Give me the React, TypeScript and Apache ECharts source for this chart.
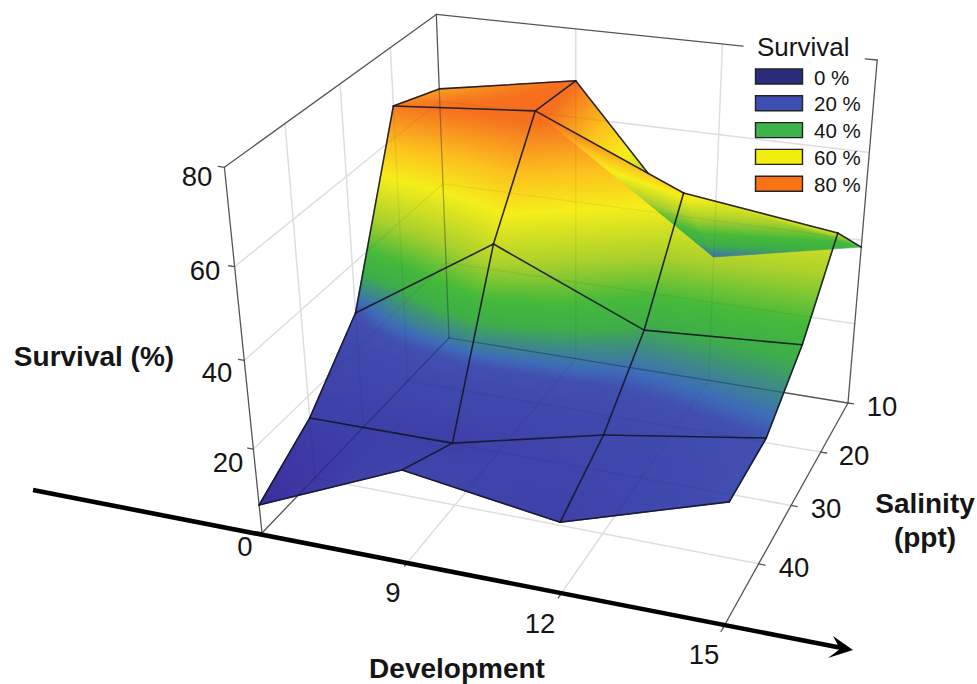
import React, { useEffect, useRef } from "react";
import * as echarts from "echarts";

// ---- data ----
const developmentTicks = [9, 12, 15];
const salinityTicks = [10, 20, 30, 40];
const survivalTicks = [0, 20, 40, 60, 80];
const developmentNodes = [6, 9, 12, 15];
const salinityNodes = [10, 20, 30, 40, 50];
const survivalAt10 = [62.9, 68.4, 31.2, 38.4];
const survivalAt20 = [67.1, 69.8, 55.8, 51.5];
const survivalAt30 = [28.5, 49.5, 35.2, 37.4];
const survivalAt40 = [14.8, 15.0, 23.2, 28.8];
const survivalAt50 = [6.8, 21.7, 16.7, 28.1];
const survivalRows = [survivalAt10, survivalAt20, survivalAt30, survivalAt40, survivalAt50];
const legendLabels = ["0 %", "20 %", "40 %", "60 %", "80 %"];
const legendColors = ["#2b2c7c", "#3d4db0", "#3cb44a", "#f2ee10", "#f97316"];
const rampValues = [0, 7, 15, 25, 28.5, 30.5, 33, 36, 40, 46, 54, 60, 68, 80];
const rampColors = ["#2c2480", "#3b2e9e", "#3e3fa8", "#4049ae", "#414fb0", "#3e6cb8", "#3d8a88", "#3eae48", "#45b93a", "#a8d02c", "#f5ee1a", "#fcc01e", "#f5701f", "#f96010"];

// ---- 3D projection of the box ----
const X_MIN = 6, X_MAX = 15, Y_MIN = 10, Y_MAX = 50, Z_MAX = 80;

function solve(A: number[][], b: number[]) {
  const n = b.length;
  const M = A.map((r, i) => [...r, b[i]]);
  for (let i = 0; i < n; i++) {
    let p = i;
    for (let k = i + 1; k < n; k++) if (Math.abs(M[k][i]) > Math.abs(M[p][i])) p = k;
    [M[i], M[p]] = [M[p], M[i]];
    for (let k = 0; k < n; k++) {
      if (k === i) continue;
      const f = M[k][i] / M[i][i];
      for (let j = i; j <= n; j++) M[k][j] -= f * M[i][j];
    }
  }
  return M.map((r, i) => r[n] / r[i]);
}
const floorCal = [[0, 0, 449, 338], [1, 0, 848, 403], [1, 1, 723, 628], [0, 1, 262, 533]];
const topCal = [[0, 1, 225, 168], [0, 0, 436, 12], [1, 0, 877, 62]];
const h = (() => {
  const A: number[][] = [], b: number[] = [];
  for (const [u, v, x, y] of floorCal) {
    A.push([u, v, 1, 0, 0, 0, -u * x, -v * x]); b.push(x);
    A.push([0, 0, 0, u, v, 1, -u * y, -v * y]); b.push(y);
  }
  return solve(A, b);
})();
const H = (u: number, v: number) => [h[0] * u + h[1] * v + h[2], h[3] * u + h[4] * v + h[5], h[6] * u + h[7] * v + 1];
const col = (() => {
  const A: number[][] = [], b: number[] = [];
  for (const [u, v, x, y] of topCal) {
    const [X, Y, W] = H(u, v);
    A.push([1, 0, -x]); b.push(x * W - X);
    A.push([0, 1, -y]); b.push(y * W - Y);
  }
  const N = [0, 1, 2].map((i) => [0, 1, 2].map((j) => A.reduce((s, r) => s + r[i] * r[j], 0)));
  const R = [0, 1, 2].map((i) => A.reduce((s, r, k) => s + r[i] * b[k], 0));
  return solve(N, R);
})();
type Pt = number[];
function projUV(u: number, v: number, z: number): Pt {
  const [X, Y, W] = H(u, v);
  const t = z / Z_MAX;
  const d = W + col[2] * t;
  return [(X + col[0] * t) / d, (Y + col[1] * t) / d];
}
const uOf = (x: number) => (x - X_MIN) / (X_MAX - X_MIN);
const vOf = (y: number) => (y - Y_MIN) / (Y_MAX - Y_MIN);

const nodeU = (i: number) => uOf(developmentNodes[i]);
const nodeV = (j: number) => vOf(salinityNodes[j]);
const nodeZ = (i: number, j: number) => survivalRows[j][i];
const nodeP = (i: number, j: number) => projUV(nodeU(i), nodeV(j), nodeZ(i, j));

// ---- colour ramp ----
function hexRgb(c: string) {
  return [1, 3, 5].map((k) => parseInt(c.slice(k, k + 2), 16));
}
function ramp(z: number) {
  let k = 0;
  while (k < rampValues.length - 2 && z > rampValues[k + 1]) k++;
  const t = Math.min(1, Math.max(0, (z - rampValues[k]) / (rampValues[k + 1] - rampValues[k])));
  const a = hexRgb(rampColors[k]), b = hexRgb(rampColors[k + 1]);
  return `rgb(${a.map((v, n) => Math.round(v + (b[n] - v) * t)).join(",")})`;
}

type Vtx = { p: Pt; z: number };
function triangleEl(a: Vtx, b: Vtx, c: Vtx, lineWidth: number) {
  const zmin = Math.min(a.z, b.z, c.z), zmax = Math.max(a.z, b.z, c.z);
  const d1 = [b.p[0] - a.p[0], b.p[1] - a.p[1]];
  const d2 = [c.p[0] - a.p[0], c.p[1] - a.p[1]];
  const det = d1[0] * d2[1] - d2[0] * d1[1];
  let fill: any = ramp((zmin + zmax) / 2);
  if (Math.abs(det) > 1e-3 && zmax - zmin > 1e-3) {
    const dz1 = b.z - a.z, dz2 = c.z - a.z;
    const gx = (dz1 * d2[1] - dz2 * d1[1]) / det;
    const gy = (-dz1 * d2[0] + dz2 * d1[0]) / det;
    const g2 = gx * gx + gy * gy;
    const s = (zmin - a.z) / g2, e = (zmax - a.z) / g2;
    const stops = [{ offset: 0, color: ramp(zmin) }];
    rampValues.forEach((rv, k) => {
      if (rv > zmin && rv < zmax) stops.push({ offset: (rv - zmin) / (zmax - zmin), color: rampColors[k] });
    });
    stops.push({ offset: 1, color: ramp(zmax) });
    fill = new echarts.graphic.LinearGradient(a.p[0] + gx * s, a.p[1] + gy * s, a.p[0] + gx * e, a.p[1] + gy * e, stops, true);
  }
  return {
    type: "polygon",
    shape: { points: [a.p, b.p, c.p] },
    style: { fill, stroke: lineWidth > 0 ? fill : "none", lineWidth, lineJoin: "round" },
  };
}
const SUB = 5;
function cellChildren(i: number, j: number) {
  const v00: Vtx = { p: nodeP(i, j), z: nodeZ(i, j) };
  const v10: Vtx = { p: nodeP(i + 1, j), z: nodeZ(i + 1, j) };
  const v01: Vtx = { p: nodeP(i, j + 1), z: nodeZ(i, j + 1) };
  const v11: Vtx = { p: nodeP(i + 1, j + 1), z: nodeZ(i + 1, j + 1) };
  if (j === 0 && i >= 1) {
    // the folded back cells keep their two flat facets
    return [triangleEl(v01, v00, v10, 0.6), triangleEl(v01, v10, v11, 0.6)];
  }
  const at = (s: number, t: number): Vtx => {
    const z = (1 - s) * (1 - t) * v00.z + s * (1 - t) * v10.z + (1 - s) * t * v01.z + s * t * v11.z;
    const u = nodeU(i) + s * (nodeU(i + 1) - nodeU(i));
    const v = nodeV(j) + t * (nodeV(j + 1) - nodeV(j));
    return { p: projUV(u, v, z), z };
  };
  const out: any[] = [];
  for (let a = 0; a < SUB; a++) {
    for (let b = 0; b < SUB; b++) {
      const q00 = at(a / SUB, b / SUB), q10 = at((a + 1) / SUB, b / SUB);
      const q01 = at(a / SUB, (b + 1) / SUB), q11 = at((a + 1) / SUB, (b + 1) / SUB);
      out.push(triangleEl(q00, q10, q11, 1.3), triangleEl(q00, q11, q01, 1.3));
    }
  }
  return out;
}

// ---- box and grid segments in (u, v, z) ----
type Seg = { a: Pt; b: Pt };
const seg3 = (u0: number, v0: number, z0: number, u1: number, v1: number, z1: number): Seg => ({
  a: projUV(u0, v0, z0),
  b: projUV(u1, v1, z1),
});
const gridSegs: Seg[] = [];
developmentTicks.slice(0, 2).forEach((x) => {
  gridSegs.push(seg3(uOf(x), 0, 0, uOf(x), 1, 0));
  gridSegs.push(seg3(uOf(x), 0, 0, uOf(x), 0, Z_MAX));
});
salinityTicks.slice(1).forEach((y) => {
  gridSegs.push(seg3(0, vOf(y), 0, 1, vOf(y), 0));
  gridSegs.push(seg3(0, vOf(y), 0, 0, vOf(y), Z_MAX));
});
survivalTicks.slice(1, 4).forEach((z) => {
  gridSegs.push(seg3(0, 0, z, 1, 0, z));
  gridSegs.push(seg3(0, 0, z, 0, 1, z));
});
const boxSegs: Seg[] = [
  seg3(0, 1, 0, 0, 1, Z_MAX),
  seg3(0, 1, Z_MAX, 0, 0, Z_MAX),
  seg3(0, 0, 0, 0, 0, Z_MAX),
  seg3(0, 0, Z_MAX, 0.712, 0, Z_MAX),
  seg3(0.975, 0, Z_MAX, 1, 0, Z_MAX),
  seg3(1, 0, 0, 1, 0, Z_MAX),
  seg3(0, 0, 0, 1, 0, 0),
  seg3(0, 0, 0, 0, 1, 0),
  seg3(1, 0, 0, 1, 1, 0),
];
const T = 0.013;
developmentTicks.forEach((x) => boxSegs.push(seg3(uOf(x), 1, 0, uOf(x), 1 + T, 0)));
salinityTicks.forEach((y) => boxSegs.push(seg3(1, vOf(y), 0, 1 + T, vOf(y), 0)));
survivalTicks.forEach((z) => boxSegs.push(seg3(0, 1, z, -T, 1, z)));

// ---- parts of those segments seen through the surface ----
const coarseTris: Pt[][] = [];
for (let j = 0; j < salinityNodes.length - 1; j++) {
  for (let i = 0; i < developmentNodes.length - 1; i++) {
    coarseTris.push([nodeP(i, j + 1), nodeP(i, j), nodeP(i + 1, j)]);
    coarseTris.push([nodeP(i, j + 1), nodeP(i + 1, j), nodeP(i + 1, j + 1)]);
  }
}
function clipTri(s: Seg, tri: Pt[]): [number, number] | null {
  const area = (tri[1][0] - tri[0][0]) * (tri[2][1] - tri[0][1]) - (tri[2][0] - tri[0][0]) * (tri[1][1] - tri[0][1]);
  const sign = area > 0 ? 1 : -1;
  let t0 = 0, t1 = 1;
  const d = [s.b[0] - s.a[0], s.b[1] - s.a[1]];
  for (let k = 0; k < 3; k++) {
    const p = tri[k], q = tri[(k + 1) % 3];
    const e = [q[0] - p[0], q[1] - p[1]];
    const f0 = sign * (e[0] * (s.a[1] - p[1]) - e[1] * (s.a[0] - p[0]));
    const fd = sign * (e[0] * d[1] - e[1] * d[0]);
    if (Math.abs(fd) < 1e-9) {
      if (f0 < 0) return null;
      continue;
    }
    const t = -f0 / fd;
    if (fd > 0) t0 = Math.max(t0, t);
    else t1 = Math.min(t1, t);
    if (t0 >= t1) return null;
  }
  return [t0, t1];
}
function through(s: Seg): Seg[] {
  const iv = coarseTris.map((t) => clipTri(s, t)).filter(Boolean) as [number, number][];
  iv.sort((a, b) => a[0] - b[0]);
  const merged: [number, number][] = [];
  iv.forEach((r) => {
    const last = merged[merged.length - 1];
    if (last && r[0] <= last[1] + 1e-6) last[1] = Math.max(last[1], r[1]);
    else merged.push([r[0], r[1]]);
  });
  const at = (t: number) => [s.a[0] + (s.b[0] - s.a[0]) * t, s.a[1] + (s.b[1] - s.a[1]) * t];
  return merged.map((m) => ({ a: at(m[0]), b: at(m[1]) }));
}
const gridThrough = gridSegs.flatMap(through);
const boxThrough = boxSegs.slice(0, 9).flatMap(through);

// ---- mesh wires ----
function crossing(a: Pt, b: Pt, c: Pt, d: Pt): Pt {
  const r = [b[0] - a[0], b[1] - a[1]], s = [d[0] - c[0], d[1] - c[1]];
  const t = ((c[0] - a[0]) * s[1] - (c[1] - a[1]) * s[0]) / (r[0] * s[1] - r[1] * s[0]);
  return [a[0] + r[0] * t, a[1] + r[1] * t];
}
const wires: Seg[] = [];
salinityNodes.forEach((_, j) => {
  developmentNodes.slice(0, -1).forEach((_, i) => {
    if (j === 0 && i === 1) {
      wires.push({ a: nodeP(1, 0), b: crossing(nodeP(1, 0), nodeP(2, 0), nodeP(1, 1), nodeP(2, 1)) });
    } else if (!(j === 0 && i === 2)) {
      wires.push({ a: nodeP(i, j), b: nodeP(i + 1, j) });
    }
  });
});
developmentNodes.forEach((_, i) => {
  salinityNodes.slice(0, -1).forEach((_, j) => {
    if (!(i === 2 && j === 0)) wires.push({ a: nodeP(i, j), b: nodeP(i, j + 1) });
  });
});

// ---- fixed text layout ----
const tickFont = "27.5px 'Liberation Sans', Arial, sans-serif";
const titleFont = "bold 28px 'Liberation Sans', Arial, sans-serif";
const survivalLabelPos = [[245, 546], [228, 462], [217, 372], [205, 270], [197, 176]];
const developmentLabelPos = [[393, 592], [540, 623], [704, 654]];
const salinityLabelPos = [[882, 406], [854, 455], [826, 508], [794, 567]];

function text(t: string, x: number, y: number, font: string, align = "center") {
  return { type: "text", x, y, z: 100, silent: true, style: { text: t, x: 0, y: 0, font, fill: "#151515", align, verticalAlign: "middle" } };
}

function segSeries(name: string, segs: Seg[], z: number, stroke: string, lineWidth: number) {
  return {
    type: "custom",
    name,
    coordinateSystem: "none",
    silent: true,
    z,
    clip: false,
    data: segs.map((_, k) => [k]),
    renderItem: (_: any, api: any) => {
      const s = segs[api.value(0)];
      return {
        type: "line",
        shape: { x1: s.a[0], y1: s.a[1], x2: s.b[0], y2: s.b[1] },
        style: { stroke, lineWidth, lineCap: "round", fill: "none" },
      };
    },
  };
}

const cells: number[][] = [];
for (let j = salinityNodes.length - 2; j >= 0; j--) {
  for (let i = developmentNodes.length - 2; i >= 0; i--) cells.push([i, j]);
}

export default function App() {
  const ref = useRef<HTMLDivElement>(null);
  useEffect(() => {
    document.body.style.margin = "0";
    const chart = echarts.init(ref.current!, undefined, { renderer: "svg" });
    const graphic: any[] = [
      { type: "polyline", z: 90, silent: true, shape: { points: [[33, 490], [842, 648]] }, style: { stroke: "#000", lineWidth: 4.6, fill: "none" } },
      { type: "polygon", z: 91, silent: true, shape: { points: [[853, 650], [833, 636], [840, 649], [828, 658]] }, style: { fill: "#000" } },
      text("Survival (%)", 94, 356, titleFont),
      text("Development", 457, 668, titleFont),
      text("Salinity", 925, 503, titleFont),
      text("(ppt)", 925, 537, titleFont),
      text("Survival", 757, 47, "26px 'Liberation Sans', Arial, sans-serif", "left"),
    ];
    survivalTicks.forEach((v, k) => graphic.push(text(String(v), survivalLabelPos[k][0], survivalLabelPos[k][1], tickFont)));
    developmentTicks.forEach((v, k) => graphic.push(text(String(v), developmentLabelPos[k][0], developmentLabelPos[k][1], tickFont)));
    salinityTicks.forEach((v, k) => graphic.push(text(String(v), salinityLabelPos[k][0], salinityLabelPos[k][1], tickFont)));
    legendLabels.forEach((t, k) => {
      const y = 69 + k * 26.8;
      graphic.push({ type: "rect", z: 100, silent: true, shape: { x: 755.5, y, width: 47, height: 15 }, style: { fill: legendColors[k], stroke: "#222", lineWidth: 1.4 } });
      graphic.push(text(t, 814, y + 8, "20.5px 'Liberation Sans', Arial, sans-serif", "left"));
    });
    chart.setOption({
      animation: false,
      backgroundColor: "#fff",
      graphic,
      series: [
        segSeries("grid", gridSegs, 1, "#dedede", 1.5),
        segSeries("box", boxSegs, 1.5, "#555", 1.3),
        {
          type: "custom",
          name: "surface",
          coordinateSystem: "none",
          silent: true,
          z: 2,
          data: cells,
          renderItem: (_: any, api: any) => ({ type: "group", children: cellChildren(api.value(0), api.value(1)) }),
        },
        segSeries("gridThrough", gridThrough, 3, "rgba(20,20,40,0.06)", 1.4),
        segSeries("boxThrough", boxThrough, 3.1, "rgba(20,20,60,0.36)", 1.2),
        segSeries("wires", wires, 4, "rgba(22,22,40,0.9)", 1.6),
      ],
    });
    return () => chart.dispose();
  }, []);
  return <div ref={ref} style={{ width: 977, height: 684 }} />;
}
